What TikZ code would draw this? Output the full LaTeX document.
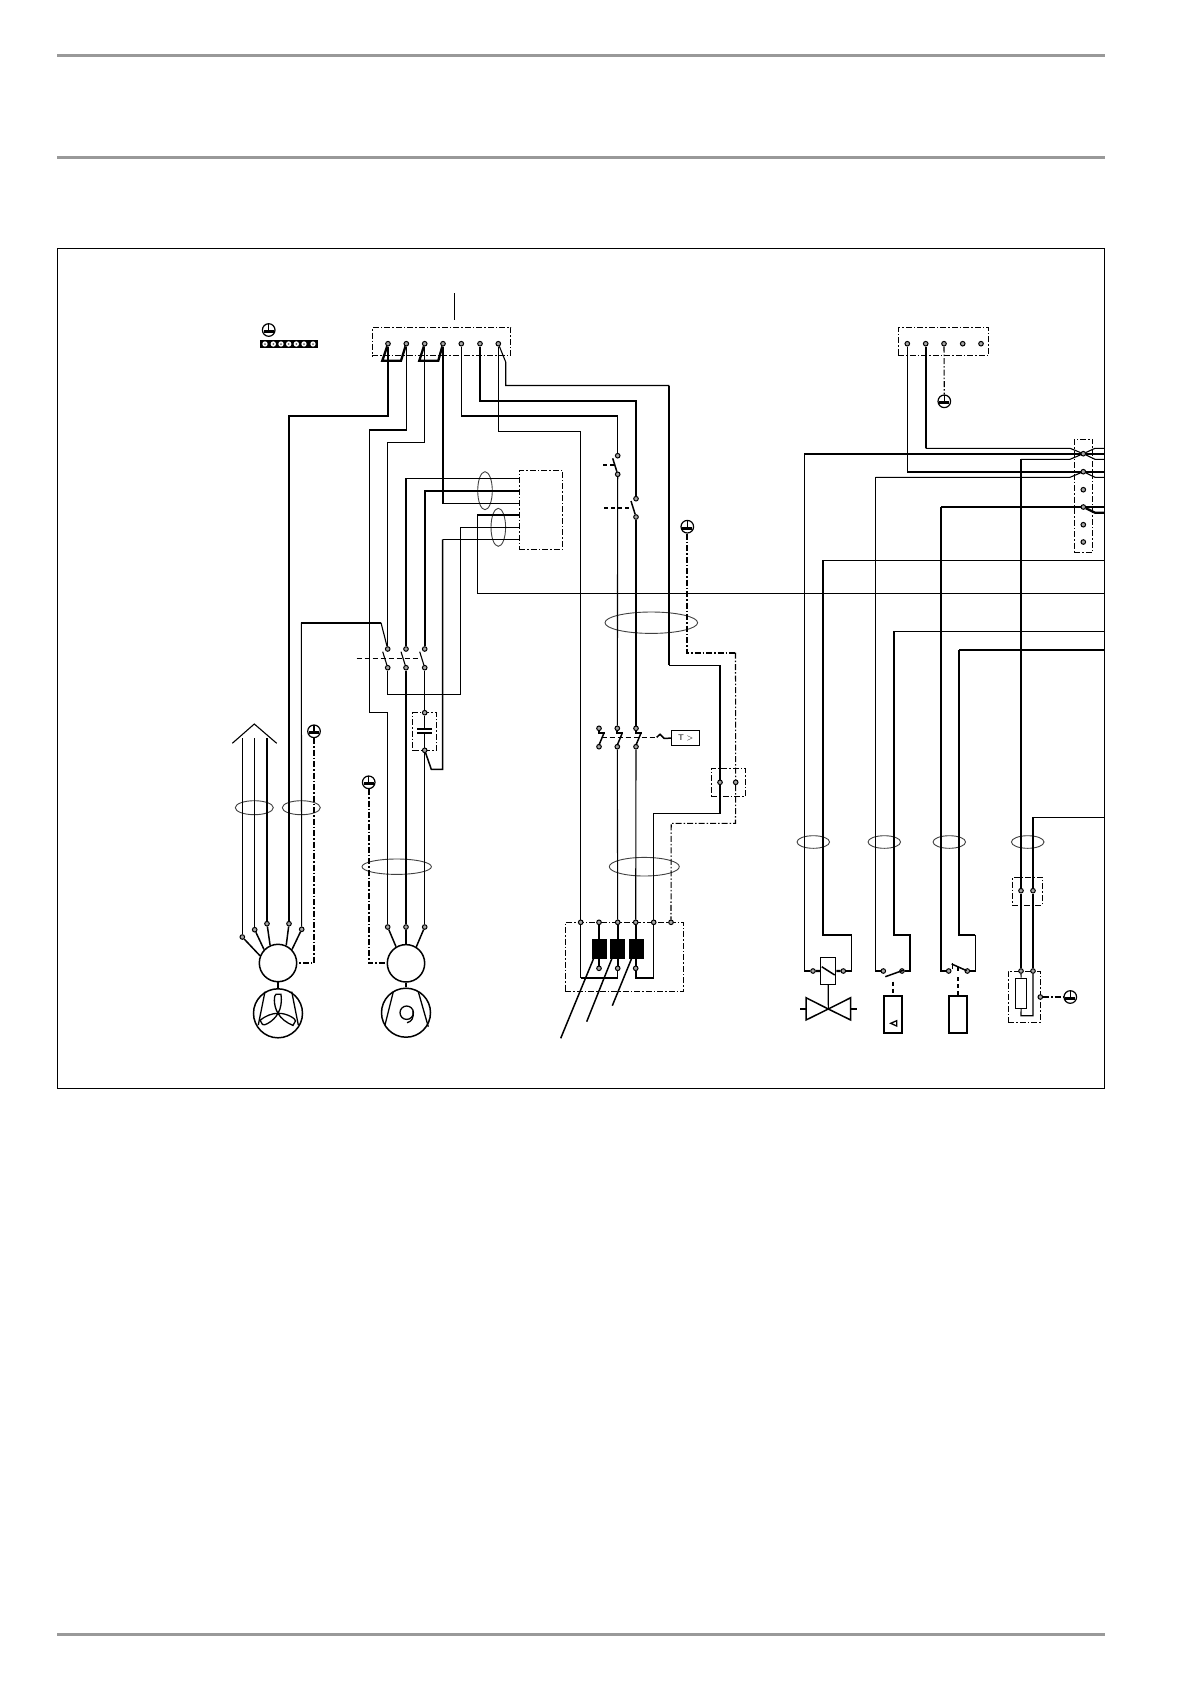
\documentclass[tikz,border=0pt]{standalone}
\usetikzlibrary{arrows.meta,positioning,shapes.geometric}

\begin{document}
\begin{tikzpicture}[
    x=1pt, y=-1pt,
    wthin/.style={line width=1.1pt},
    wmed/.style={line width=1.5pt},
    wthick/.style={line width=2.3pt},
    term/.style={circle, draw, fill=black!35, line width=1pt, minimum size=4.6pt, inner sep=0pt},
    dashbox/.style={rectangle, draw, line width=.8pt, dash pattern=on 6pt off 2pt on 1.5pt off 2pt, inner sep=0pt},
    pe/.style={line width=1.1pt, dash pattern=on 6pt off 2pt on 1.5pt off 2pt},
    pethick/.style={line width=1.8pt, dash pattern=on 6pt off 2pt on 1.5pt off 2pt},
    linkdash/.style={line width=.9pt, dash pattern=on 5pt off 3pt},
    linkthick/.style={line width=1.8pt, dash pattern=on 4pt off 3pt},
    loopring/.style={ellipse, draw=black!75, line width=.9pt, inner sep=0pt},
    motor/.style={circle, draw, line width=1.5pt, minimum size=37.4pt, inner sep=0pt},
    load/.style={circle, draw, line width=1.5pt, minimum size=49pt, inner sep=0pt},
    coil/.style={rectangle, draw=black, fill=black, minimum width=13.4pt, minimum height=19.6pt, inner sep=0pt},
    sensor/.style={rectangle, draw, line width=1.7pt, minimum width=18.6pt, minimum height=37.3pt, inner sep=0pt},
    earth/.style={circle, draw, line width=1.2pt, minimum size=12.6pt, inner sep=0pt,
        path picture={
            \draw[line width=1.2pt] (path picture bounding box.north) -- (path picture bounding box.center);
            \fill ([xshift=-5pt]path picture bounding box.center) rectangle ([xshift=5pt,yshift=-3pt]path picture bounding box.center);
        }}
]
\useasboundingbox (0,0) rectangle (1191,1684);

% Page rules and frame
\coordinate (ruleA) at (57,55.3);  \coordinate (ruleAe) at (1105,55.3);
\coordinate (ruleB) at (57,157.3); \coordinate (ruleBe) at (1105,157.3);
\coordinate (ruleC) at (57,1634.3); \coordinate (ruleCe) at (1105,1634.3);
\draw[black!40, line width=3pt] (ruleA) -- (ruleAe);
\draw[black!40, line width=3pt] (ruleB) -- (ruleBe);
\draw[black!40, line width=3pt] (ruleC) -- (ruleCe);
\node[rectangle, draw, line width=1.1pt, minimum width=1046.8pt, minimum height=840pt, inner sep=0pt] (frame) at (580.9,668.3) {};

% Terminal boxes
\node[dashbox, minimum width=138.4pt, minimum height=28.4pt] (mainbox) at (441.5,341.5) {};
\node[dashbox, minimum width=90.4pt, minimum height=28pt] (sidebox) at (943.5,341.3) {};
\node[dashbox, minimum width=43.4pt, minimum height=79pt] (ctrlbox) at (541,509.8) {};
\node[dashbox, minimum width=24pt, minimum height=37.6pt] (capbox) at (424.7,731.5) {};
\node[dashbox, minimum width=34pt, minimum height=28.4pt] (plugbox) at (728.3,782.5) {};
\node[dashbox, minimum width=118.4pt, minimum height=69pt] (coilbox) at (624.5,956.8) {};
\node[dashbox, minimum width=18.4pt, minimum height=113pt] (xbox) at (1083.5,495.8) {};
\node[dashbox, minimum width=29.7pt, minimum height=28.4pt] (heatplug) at (1027.2,891.5) {};
\node[dashbox, minimum width=32pt, minimum height=51pt] (heatbox) at (1024.3,996.8) {};

% Main terminals
\node[term] (k1) at (388,343.7) {};
\node[term] (k2) at (406.3,343.7) {};
\node[term] (k3) at (424.7,343.7) {};
\node[term] (k4) at (443,343.7) {};
\node[term] (k5) at (461.3,343.7) {};
\node[term] (k6) at (480,343.7) {};
\node[term] (k7) at (498.3,343.7) {};
\node[term] (t1) at (907.3,343.7) {};
\node[term] (t2) at (925.7,343.7) {};
\node[term] (t3) at (944,343.7) {};
\node[term] (t4) at (962.7,343.7) {};
\node[term] (t5) at (981,343.7) {};
\coordinate (topstub) at (454.3,293);
\coordinate (topstubend) at (454.3,320);

% Earth bar
\node[earth] (ebar) at (268.7,330) {};
\node[rectangle, fill=black, minimum width=57.4pt, minimum height=8.6pt, inner sep=0pt] (bar) at (289,344) {};
\foreach \px in {265,273.3,281,288.7,296.3,304,313} {
    \fill[white] (\px,344) circle (2.7pt);
    \fill[black!60] (\px,344) circle (1pt);
}

% Earth symbols
\node[earth] (e1) at (314,731.3) {};
\node[earth] (e2) at (368.7,782.3) {};
\node[earth] (e3) at (687.3,526.7) {};
\node[earth] (e4) at (944.3,401.3) {};
\node[earth] (e5) at (1070.3,997) {};

% Contactor
\node[term] (a1) at (387.7,649) {};
\node[term] (a2) at (406,649) {};
\node[term] (a3) at (424.7,649) {};
\node[term] (b1) at (387.7,667.7) {};
\node[term] (b2) at (406,667.7) {};
\node[term] (b3) at (424.7,667.7) {};
\coordinate (lineA) at (356.7,658.3);
\coordinate (lineB) at (420,658.3);
\draw[linkdash] (lineA) -- (lineB);
\foreach \bl in {b1,b2,b3}
    \draw[wthin] (\bl) -- ++(-5,-16);

% Capacitor
\node[term] (cap1) at (424.7,712.7) {};
\node[term] (cap2) at (424.7,750.3) {};
\draw[wthick] (417.3,729) -- (432,729);
\draw[wthick] (417.3,733.3) -- (432,733.3);
\draw[wthin] (cap1) -- (424.7,729);
\draw[wthin] (424.7,733.3) -- (cap2);

% Small switches
\node[term] (p1) at (617.7,455.7) {};
\node[term] (p2) at (617.7,474.3) {};
\node[term] (q1) at (636,498.7) {};
\node[term] (q2) at (636,517) {};
\draw[wmed] (p2) -- ++(-5,-16);
\draw[wmed] (q2) -- ++(-5,-16);
\coordinate (pl) at (603,465);
\coordinate (pr) at (614,465);
\coordinate (ql) at (604,507.7);
\coordinate (qr) at (631,507.7);
\draw[linkthick] (pl) -- (pr);
\draw[linkthick] (ql) -- (qr);

% Thermal switches
\node[term] (h1) at (599,728.3) {};
\node[term] (h2) at (617.3,728.3) {};
\node[term] (h3) at (636,728.3) {};
\node[term] (i1) at (599,746.7) {};
\node[term] (i2) at (617.3,746.7) {};
\node[term] (i3) at (636,746.7) {};
\foreach \hx in {599,617.3,636} {
    \draw[line width=1.7pt] (\hx,731) -- (\hx,733) -- ++(6,0);
    \draw[wmed] (\hx,745) -- (\hx+5,733);
}
\node[rectangle, draw, line width=1.2pt, minimum width=28pt, minimum height=15.4pt, inner sep=0pt, font=\sffamily\footnotesize] (tbox) at (685.7,738) {T >};
\coordinate (hl) at (601.7,737.3);
\coordinate (hr) at (656.7,737.3);
\draw[linkdash] (hl) -- (hr);
\draw[wmed] (hr) -- (660,734.3) -- (664,738.3) -- (tbox);

% Plug and coil terminals
\node[term] (u1) at (720,782.3) {};
\node[term] (u2) at (735.7,782.3) {};
\node[term] (w1) at (580.7,922.3) {};
\node[term] (w2) at (599,922.3) {};
\node[term] (w3) at (617.7,922.3) {};
\node[term] (w4) at (635.7,922.3) {};
\node[term] (w5) at (653.7,922.3) {};
\node[term] (w6) at (671,922.3) {};
\node[coil] (c1) at (599,948.5) {};
\node[coil] (c2) at (617.3,948.5) {};
\node[coil] (c3) at (636,948.5) {};
\node[term] (y1) at (599,968.3) {};
\node[term] (y2) at (617.7,968.3) {};
\node[term] (y3) at (635.7,968.3) {};
\coordinate (ptr1) at (560.7,1038.3);
\coordinate (ptr2) at (586.7,1021.7);
\coordinate (ptr3) at (612.3,1005.7);

% Motors
\node[term] (f1) at (242.3,937) {};
\node[term] (f2) at (254.7,929.7) {};
\node[term] (f3) at (267,923.7) {};
\node[term] (f4) at (289,923.7) {};
\node[term] (f5) at (301.7,929.3) {};
\node[motor] (fm) at (278,963) {};
\node[load] (fan) at (278,1013.3) {};
\node[term] (m1) at (387.7,927) {};
\node[term] (m2) at (406,927) {};
\node[term] (m3) at (424.7,927) {};
\node[motor] (cm) at (406,963.3) {};
\node[load] (comp) at (406,1012.7) {};
\coordinate (up1) at (242.3,738.3);
\coordinate (up2) at (254.7,738.3);
\coordinate (up3) at (267,738.3);

% Fan and compressor symbols
\draw[wthin] (232.3,743.3) -- (254.3,724) -- (276.7,743.3);
\begin{scope}[shift={(278,1013.3)}, line width=1.3pt]
    \draw (-13,-21.7) -- (-19.7,11.7);
    \draw (13.7,-21.7) -- (20.3,11.7);
    \foreach \ang in {0,120,240}
        \draw[rotate=\ang] (0,0) .. controls (-5,-8) and (-4,-19) .. (-2,-19) -- (3,-19) .. controls (4,-12) and (3,-5) .. (0,0);
\end{scope}
\begin{scope}[shift={(406,1012.7)}, line width=1.3pt]
    \draw (-12.7,-21) -- (-21,12.3);
    \draw (12.3,-21) -- (22.3,14);
    \draw (.7,0) circle (6.7pt);
    \draw (7,-2) .. controls (8,5) and (6,9) .. (1,10);
\end{scope}

% Right loads
\node[term] (v1) at (813,971) {};
\node[term] (v2) at (843.3,971) {};
\node[rectangle, draw, fill=white, line width=1.5pt, minimum width=15pt, minimum height=27pt, inner sep=0pt] (sol) at (828.2,970.8) {};
\draw[line width=1.5pt] (821.7,966.7) -- (834.7,975);
\coordinate (vc) at (828.3,1009);
\draw[line width=1.5pt] (vc) -- (806,997.7) -- (806,1020) -- (vc) -- (850.7,997.7) -- (850.7,1020) -- cycle;
\draw[wthin] (sol) -- (vc);
\draw[line width=1.5pt] (800,1009) -- (806,1009);
\draw[line width=1.5pt] (850.7,1009) -- (856.7,1009);

\node[term] (n1) at (883.3,971) {};
\node[term] (n2) at (902,971) {};
\node[sensor] (press) at (893,1014.3) {};
\draw[line width=1.5pt] (885.3,976.7) -- (904,970);
\draw[linkthick] (893,981.7) -- (press);
\draw[line width=1.3pt] (890.7,1023.3) -- (896.7,1020.7) -- (896.7,1026) -- cycle;

\node[term] (d1) at (948.7,971) {};
\node[term] (d2) at (967.3,971) {};
\node[sensor] (flow) at (958,1014.3) {};
\draw[line width=1.5pt] (951.7,964) -- (966.7,970.7);
\draw[line width=1.5pt] (952.5,963) -- (952.5,969);
\draw[wthin] (958,967) -- (958,971);
\draw[linkthick] (958,977) -- (flow);

\node[term] (j1) at (1021,890.7) {};
\node[term] (j2) at (1033,890.7) {};
\node[term] (g1) at (1021,971) {};
\node[term] (g2) at (1033,971) {};
\node[rectangle, draw, line width=1.5pt, minimum width=11pt, minimum height=30pt, inner sep=0pt] (heater) at (1021.2,993.3) {};
\node[term] (g3) at (1040.3,997) {};

% Terminal strip
\node[term] (x1) at (1083.3,453.7) {};
\node[term] (x2) at (1083.3,471.7) {};
\node[term] (x3) at (1083.3,489.7) {};
\node[term] (x4) at (1083.3,507) {};
\node[term] (x5) at (1083.3,524.7) {};
\node[term] (x6) at (1083.3,542) {};

% Frame exits
\coordinate (r1) at (1104,448.3);
\coordinate (r2) at (1104,453.7);
\coordinate (r3) at (1104,459.3);
\coordinate (r4) at (1104,471.7);
\coordinate (r5) at (1104,477.3);
\coordinate (r6) at (1104,507);
\coordinate (r7) at (1104,512.7);
\coordinate (r8) at (1104,560.3);
\coordinate (r9) at (1104,593.3);
\coordinate (r10) at (1104,631.3);
\coordinate (r11) at (1104,649.7);
\coordinate (r12) at (1104,817.3);

% Cable rings
\node[loopring, minimum width=14.6pt, minimum height=38pt] (ringA) at (485,490.7) {};
\node[loopring, minimum width=14.6pt, minimum height=38pt] (ringB) at (498.3,527.3) {};
\node[loopring, minimum width=92.6pt, minimum height=21.4pt] (ringC) at (651.3,622.7) {};
\node[loopring, minimum width=38pt, minimum height=14pt] (ringD) at (254.3,807.7) {};
\node[loopring, minimum width=38pt, minimum height=14pt] (ringE) at (301.3,807.7) {};
\node[loopring, minimum width=69.4pt, minimum height=15.4pt] (ringF) at (396.7,866.7) {};
\node[loopring, minimum width=70pt, minimum height=18.6pt] (ringG) at (644.3,866.7) {};
\node[loopring, minimum width=32.6pt, minimum height=12.6pt] (ringH) at (813.3,842) {};
\node[loopring, minimum width=32.6pt, minimum height=12.6pt] (ringI) at (884.3,842) {};
\node[loopring, minimum width=32.6pt, minimum height=12.6pt] (ringJ) at (949.3,842) {};
\node[loopring, minimum width=32.6pt, minimum height=12.6pt] (ringK) at (1027.7,842) {};

% Wires, main terminals
\draw[wthin] (topstub) -- (topstubend);
\draw[wthick] (k1) -- (382.3,360.7) -- (401,360.7) -- (k2);
\draw[wthick] (k3) -- (419.3,360.7) -- (438.3,360.7) -- (k4);
\draw[wthick] (k1) |- (289,415.7) -- (f4);
\draw[wmed] (k2) |- (369.3,430) -- (369.3,712.7) -- (387.7,712.7) -- (m1);
\draw[wmed] (k3) |- (387.7,442.3) -- (a1);
\draw[wthin] (k4) |- (ctrlbox.west |- 0,503.3);
\draw[wthin] (k5) -- (461.3,415.7);
\draw[wthick] (461.3,415.7) -- (617.7,415.7);
\draw[wthin] (617.7,415.7) -- (p1);
\draw[wthin] (p2) -- (h2);
\draw[wthin] (i2) -- (w3);
\draw[wthick] (k6) |- (636,401) -- (q1);
\draw[wthick] (q2) -- (h3);
\draw[wthin] (i3) -- (w4);
\draw[wthin] (k7) -- (505.7,362) -- (505.7,385.5) -- (669.3,385.5);
\draw[wthick] (669.3,385.5) -- (669.3,665.3);
\draw[wmed] (669.3,665.3) -- (720,665.3) -- (u1);
\draw[wmed] (u1) -- (720,813.3) -- (653.7,813.3) -- (w5);
\draw[wthin] (k7) |- (580.7,431.7);
\draw[wmed] (580.7,431.7) -- (w1);

% Wires, control box and contactor
\draw[wthin] (a2) |- (ctrlbox.west |- 0,478.7);
\draw[wthick] (a3) -- (424.7,490.7) -- (ctrlbox.west |- 0,490.7);
\draw[wthick] (477.3,515) -- (ctrlbox.west |- 0,515);
\draw[wthin] (477.3,515) -- (477.3,593.3) -- (r9);
\draw[wthin] (ctrlbox.west |- 0,527.3) -- (460.3,527.3) -- (460.3,694.3) -- (387.7,694.3) -- (b1);
\draw[wthin] (ctrlbox.west |- 0,539.3) -- (442.7,539.3);
\draw[wmed] (442.7,539.3) -- (442.7,769.3) -- (431.3,769.3) -- (cap2);
\draw[wmed] (b2) -- (m2);
\draw[wthin] (b3) -- (cap1);
\draw[wmed] (cap2) -- (m3);
\draw[wthick] (301.3,622.7) -- (381,622.7);
\draw[wthin] (381,622.7) -- (a1);
\draw[wthin] (301.3,622.7) -- (f5);
\draw[wthin] (up1) -- (f1);
\draw[wthin] (up2) -- (f2);
\draw[wthick] (up3) -- (f3);

% Wires to motors
\draw[wmed] (f1) -- (fm.158);
\draw[wmed] (f2) -- (fm.136);
\draw[wmed] (f3) -- (fm.114);
\draw[wmed] (f4) -- (fm.65);
\draw[wmed] (f5) -- (fm.44);
\draw[wmed] (m1) -- (cm.121);
\draw[wmed] (m2) -- (cm);
\draw[wmed] (m3) -- (cm.58);
\draw[wthin] (fm) -- (fan);
\draw[wmed] (cm) -- (comp);

% Earth wires
\draw[pe] (e1) |- (fm);
\draw[pethick] (e2) |- (cm);
\draw[pethick] (e3) |- (735.5,652.7);
\draw[pe] (735.5,652.7) -- (u2);
\draw[pe] (u2) -- (735.5,823.3) -- (671.2,823.3) -- (w6);
\draw[pe] (t3) -- (e4);
\draw[pethick] (g3) -- (e5);

% Wires at the coil box
\draw[wthick] (w2) -- (y1);
\draw[wthick] (w3) -- (y2);
\draw[wthick] (w4) -- (y3);
\draw[wthin] (w1) -- (580.7,978);
\draw[wthick] (580.7,978) -- (617.7,978);
\draw[wthin] (617.7,978) -- (y2);
\draw[wthick] (y3) -- (635.7,978) -- (653.7,978);
\draw[wthin] (653.7,978) -- (w5);
\draw[wmed] (c1.south west) ++(1.5,0) -- (ptr1);
\draw[wmed] (c2.south west) ++(1.5,0) -- (ptr2);
\draw[wmed] (c3.south west) ++(2.5,0) -- (ptr3);

% Wires at the terminal strip
\draw[wthick] (t2) -- (925.7,448.3);
\draw[wthin] (925.7,448.3) -- (1070,448.3) -- (x1) -- (1095,448.3) -- (r1);
\draw[wthick] (804.3,453.7) -- (x1) -- (r2);
\draw[wthin] (1021,459.3) -- (1070,459.3) -- (x1) -- (1095,459.3) -- (r3);
\draw[wthin] (t1) |- (907.3,471.7);
\draw[wthick] (907.3,471.7) -- (x2) -- (r4);
\draw[wthin] (875.7,477.3) -- (1070,477.3) -- (x2) -- (1095,477.3) -- (r5);
\draw[wthick] (941,507) -- (x4);
\draw[wthin] (x4) -- (r6);
\draw[wthick] (x4) -- (1095,512.7) -- (r7);
\draw[wthin] (823,560.3) -- (r8);
\draw[wthin] (894,631.3) -- (r10);
\draw[wthick] (959,649.7) -- (r11);

% Wires to the loads
\draw[wthin] (804.3,453.7) -- (804.3,971);
\draw[wthick] (804.3,971) -- (v1);
\draw[wthick] (v1) -- (sol);
\draw[wthick] (823,560.3) -- (823,934.7) -- (851.7,934.7);
\draw[wthin] (851.7,934.7) -- (851.7,971);
\draw[wthick] (851.7,971) -- (v2);
\draw[wthick] (v2) -- (sol);
\draw[wthin] (875.7,477.3) -- (875.7,971) -- (n1);
\draw[wthick] (894,631.3) -- (894,934.7) -- (910,934.7) -- (910,971) -- (n2);
\draw[wthick] (941,507) -- (941,971) -- (d1);
\draw[wthick] (959,649.7) -- (959,934.7) -- (975.3,934.7);
\draw[wthin] (975.3,934.7) -- (975.3,971) -- (d2);
\draw[wthick] (1021,459.3) -- (j1);
\draw[wthick] (j1) -- (g1);
\draw[wthin] (g1) -- (heater);
\draw[wthin] (r12) -- (1033,817.3);
\draw[wthick] (1033,817.3) -- (j2);
\draw[wthin] (j2) -- (g2);
\draw[wthin] (g2) -- (1033,1015.7) -- (1021,1015.7) -- (heater);

\end{tikzpicture}
\end{document}
